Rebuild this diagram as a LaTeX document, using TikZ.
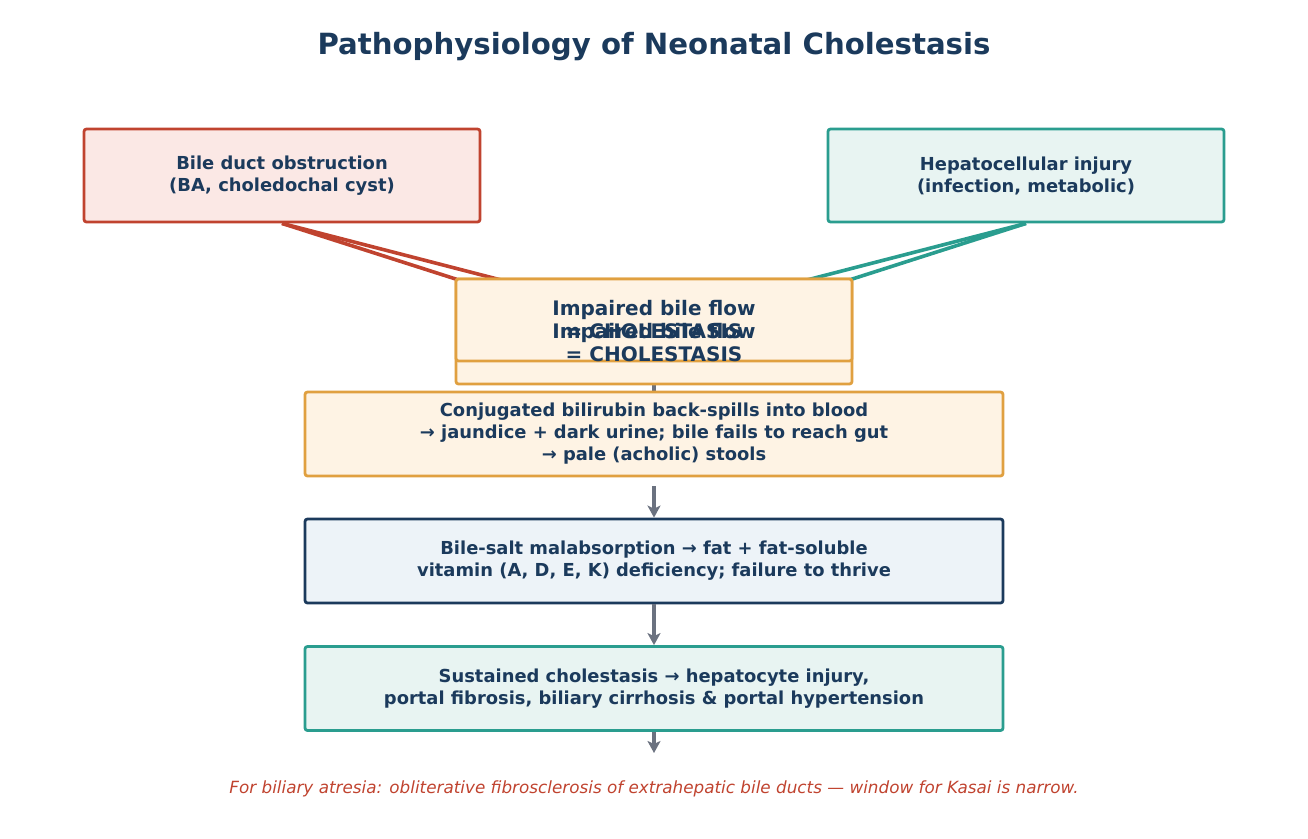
\documentclass[tikz,border=0pt]{standalone}
\usepackage{fontspec}
\setmainfont{DejaVu Sans}
\usetikzlibrary{arrows.meta,backgrounds}
\definecolor{navy}{HTML}{1B3A5C}
\definecolor{redb}{HTML}{C0432F}
\definecolor{redf}{HTML}{FBE8E5}
\definecolor{tealb}{HTML}{2A9D8F}
\definecolor{tealf}{HTML}{E8F4F2}
\definecolor{orab}{HTML}{E0A040}
\definecolor{oraf}{HTML}{FEF3E4}
\definecolor{bluef}{HTML}{EDF3F8}
\definecolor{arrowgray}{HTML}{6B7280}
\begin{document}
\begin{tikzpicture}[x=1pt,y=-1pt,
  box/.style={draw, line width=2.8pt, rounded corners=2.5pt, align=center, inner sep=0pt,
    font=\bfseries\fontsize{17.9}{22}\selectfont, text=navy},
  bigtext/.style={align=center, inner sep=0pt, font=\bfseries\fontsize{20}{23}\selectfont, text=navy},
  flow/.style={draw=arrowgray, line width=3.5pt, -{Stealth[length=12pt,width=13pt,inset=3pt]}},
  plainflow/.style={draw=arrowgray, line width=3.5pt},
  redline/.style={draw=redb, line width=3.6pt},
  tealline/.style={draw=tealb, line width=3.6pt}]
\useasboundingbox (0,0) rectangle (1308,838);
\node[font=\bfseries\fontsize{29.2}{34}\selectfont, text=navy] (title) at (654,47) {Pathophysiology of Neonatal Cholestasis};
\node[box, draw=redb, fill=redf, minimum width=396pt, minimum height=93pt] (bile) at (282,175.5)
  {Bile duct obstruction\\(BA, choledochal cyst)};
\node[box, draw=tealb, fill=tealf, minimum width=396pt, minimum height=93pt] (hep) at (1026,175.5)
  {Hepatocellular injury\\(infection, metabolic)};
\node[box, draw=orab, fill=oraf, minimum width=396pt, minimum height=105pt] (cholB) at (654,331.5) {};
\node[box, draw=orab, fill=oraf, minimum width=396pt, minimum height=82pt] (cholA) at (654,320) {};
\node[bigtext] (cholAtext) at (654,319.5) {Impaired bile flow\\= CHOLESTASIS};
\node[bigtext] (cholBtext) at (654,342.5) {Impaired bile flow\\= CHOLESTASIS};
\node[box, draw=orab, fill=oraf, minimum width=698pt, minimum height=84pt] (conj) at (654,434)
  {Conjugated bilirubin back-spills into blood\\→ jaundice + dark urine; bile fails to reach gut\\→ pale (acholic) stools};
\node[box, draw=navy, fill=bluef, minimum width=698pt, minimum height=84pt] (salt) at (654,561)
  {Bile-salt malabsorption → fat + fat-soluble\\vitamin (A, D, E, K) deficiency; failure to thrive};
\node[box, draw=tealb, fill=tealf, minimum width=698pt, minimum height=84pt] (sust) at (654,688.5)
  {Sustained cholestasis → hepatocyte injury,\\portal fibrosis, biliary cirrhosis \& portal hypertension};
\coordinate (end) at (654,753);
\node[font=\itshape\fontsize{16.8}{20}\selectfont, text=redb] (foot) at (654,789)
  {For biliary atresia: obliterative fibrosclerosis of extrahepatic bile ducts — window for Kasai is narrow.};
\begin{scope}[on background layer]
  \draw[redline] (bile.south) -- (cholAtext.center);
  \draw[redline] (bile.south) -- (cholBtext.center);
  \draw[tealline] (hep.south) -- (cholAtext.center);
  \draw[tealline] (hep.south) -- (cholBtext.center);
  \draw[plainflow] (cholA.south) -- (conj.center);
\end{scope}
\draw[flow] ([yshift=-9pt]conj.south) -- (salt.north);
\draw[flow] (salt.south) -- (sust.north);
\draw[flow] (sust.south) -- (end);
\end{tikzpicture}
\end{document}
